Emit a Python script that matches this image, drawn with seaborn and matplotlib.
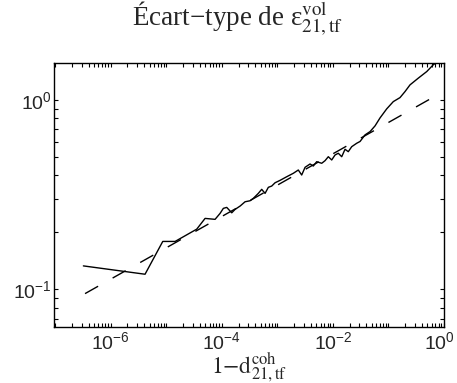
import matplotlib
matplotlib.use("Agg")
import matplotlib.pyplot as plt
import matplotlib.ticker as mticker
import matplotlib.transforms as mtransforms
import seaborn as sns
import pandas as pd

# Standard deviation of the volume error vs. 1 - coherence (log-log)
one_minus_d = [3.21e-7, 4.14e-6, 8.63e-6, 1.44e-5, 3.53e-5, 4.99e-5, 7.55e-5, 9.29e-5,
               1.064e-4, 1.224e-4, 1.507e-4, 1.730e-4, 2.13e-4, 2.62e-4, 3.22e-4, 3.69e-4,
               4.54e-4, 5.22e-4, 6.00e-4, 6.87e-4, 7.91e-4, 9.08e-4, 1.117e-3, 1.472e-3,
               1.936e-3, 2.38e-3, 2.74e-3, 3.15e-3, 3.87e-3, 4.44e-3, 5.10e-3, 6.28e-3,
               7.21e-3, 8.26e-3, 9.51e-3, 1.092e-2, 1.25e-2, 1.44e-2, 1.652e-2, 1.89e-2,
               2.18e-2, 2.68e-2, 3.08e-2, 3.78e-2, 4.66e-2, 5.73e-2, 7.05e-2, 9.29e-2,
               0.1222, 0.1614, 0.1986, 0.2443, 0.344, 0.489, 0.641, 0.847]
std_eps = [0.1328, 0.120, 0.1788, 0.1788, 0.2076, 0.2366, 0.2339, 0.2515,
           0.2673, 0.2705, 0.2533, 0.264, 0.2749, 0.2897, 0.2932, 0.302,
           0.3208, 0.3369, 0.3208, 0.3452, 0.3507, 0.365, 0.3758, 0.3927,
           0.4095, 0.4262, 0.401, 0.4404, 0.4585, 0.4474, 0.4715, 0.4625,
           0.4773, 0.501, 0.4815, 0.5117, 0.5224, 0.501, 0.5484, 0.5326,
           0.566, 0.590, 0.603, 0.653, 0.680, 0.7287, 0.803, 0.896,
           0.979, 1.028, 1.106, 1.20, 1.302, 1.411, 1.532, 1.628]

# Power-law fit (straight line in log-log), given by its end points
fit_x = [3.44e-7, 0.641]
fit_y = [0.0948, 1.033]

x_ticks = [1e-6, 1e-4, 1e-2, 1e0]
y_ticks = [1e-1, 1e0]

sns.set_style("white")
plt.rcParams["font.family"] = ["Liberation Sans", "DejaVu Sans"]
plt.rcParams["mathtext.fontset"] = "custom"
plt.rcParams["mathtext.rm"] = "Liberation Sans"
plt.rcParams["mathtext.it"] = "Liberation Sans:italic"
plt.rcParams["mathtext.default"] = "regular"
plt.rcParams["lines.scale_dashes"] = False

fig = plt.figure(figsize=(4.57, 3.83), dpi=100)
ax = fig.add_axes([54 / 457, 1 - 326.7 / 383, (444 - 54) / 457, (326.7 - 63.3) / 383])

data = pd.DataFrame({"x": one_minus_d, "y": std_eps})
fit = pd.DataFrame({"x": fit_x, "y": fit_y})

sns.lineplot(data=data, x="x", y="y", color="black", linewidth=1.0, ax=ax, sort=False)
sns.lineplot(data=fit, x="x", y="y", color="black", linewidth=1.0, ax=ax, sort=False)
ax.lines[-1].set_dashes((10.8, 12.0))

ax.set_xscale("log")
ax.set_yscale("log")
ax.set_xlim(0.95e-7, 1.0)
ax.set_ylim(0.0634, 1.56)

ax.xaxis.set_major_locator(mticker.FixedLocator(x_ticks))
ax.yaxis.set_major_locator(mticker.FixedLocator(y_ticks))
ax.xaxis.set_minor_locator(mticker.LogLocator(base=10, subs=range(1, 10), numticks=30))
ax.yaxis.set_minor_locator(mticker.LogLocator(base=10, subs=range(1, 10), numticks=30))
ax.xaxis.set_major_formatter(mticker.LogFormatterMathtext())
ax.yaxis.set_major_formatter(mticker.LogFormatterMathtext())
ax.xaxis.set_minor_formatter(mticker.NullFormatter())
ax.yaxis.set_minor_formatter(mticker.NullFormatter())

ax.tick_params(which="both", direction="in", top=True, right=True, bottom=True, left=True,
               length=2.9, width=0.8, color="black")
ax.tick_params(axis="x", which="major", labelsize=14, pad=3)
ax.tick_params(axis="y", which="major", labelsize=14, pad=1.5)

for sp in ax.spines.values():
    sp.set_visible(True)
    sp.set_color("black")
    sp.set_linewidth(1.0)

ax.set_xlabel(r"$\mathrm{1{-}d}^{\mathrm{coh}}_{\mathrm{21,tf}}$", fontsize=17,
              math_fontfamily="stix", labelpad=-2)
ax.set_ylabel("")
ax.set_title("Écart−type de " + r"$\varepsilon^{\mathrm{vol}}_{\mathrm{21,tf}}$",
             fontsize=19.5, family="Liberation Serif", math_fontfamily="stix",
             pad=26, x=0.47)

# keep the rightmost x tick label inside the figure
fig.canvas.draw()
last = ax.xaxis.get_major_ticks()[-1].label1
last.set_transform(last.get_transform()
                   + mtransforms.ScaledTranslation(-5 / 100, 0, fig.dpi_scale_trans))

fig.savefig("out.png", dpi=100)
